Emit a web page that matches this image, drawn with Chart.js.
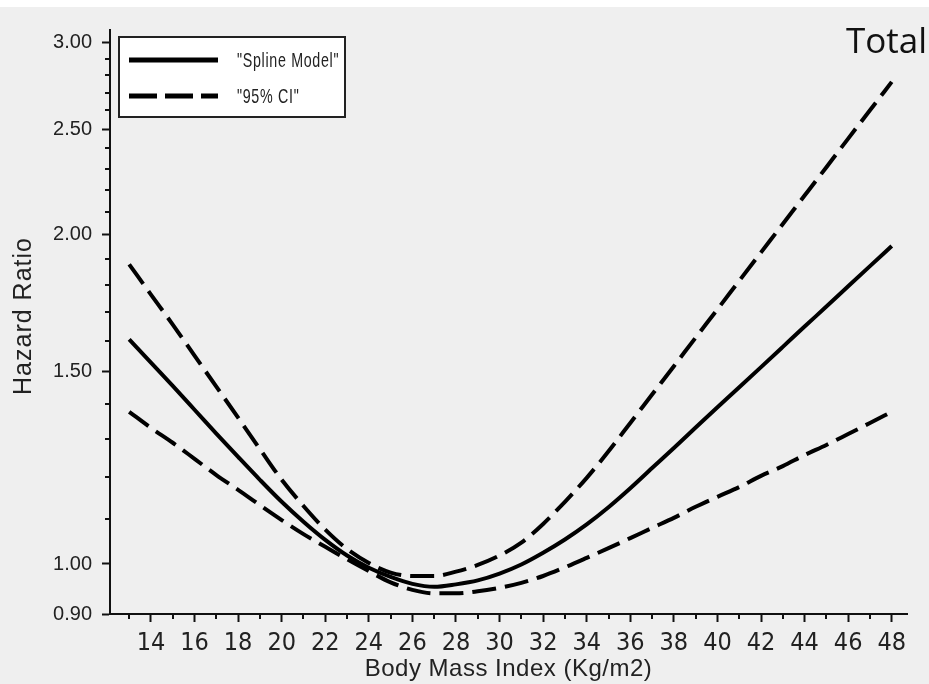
<!DOCTYPE html>
<html>
<head>
<meta charset="utf-8">
<script src="https://cdn.jsdelivr.net/npm/chart.js@4/dist/chart.umd.min.js"></script>
<style>
  body { margin: 0; background: #ffffff; }
  canvas { display: block; }
</style>
</head>
<body>
<canvas id="grafica_bmi" width="929" height="684"></canvas>
<script>
// datos
const bmi = [13, 14, 15, 16, 17, 18, 19, 20, 21, 22, 23, 24, 25, 26, 27, 28, 29, 30,
             31, 32, 33, 34, 35, 36, 37, 38, 39, 40, 41, 42, 43, 44, 45, 46, 47, 48];

const spline = [1.605, 1.528, 1.455, 1.384, 1.316, 1.253, 1.194, 1.140, 1.093, 1.052, 1.018, 0.992,
                0.973, 0.959, 0.953, 0.958, 0.966, 0.980, 0.999, 1.024, 1.053, 1.087, 1.127, 1.173,
                1.224, 1.277, 1.333, 1.391, 1.451, 1.514, 1.580, 1.649, 1.720, 1.795, 1.873, 1.954];

const ciAlto = [1.880, 1.764, 1.656, 1.551, 1.453, 1.361, 1.274, 1.194, 1.130, 1.075, 1.032, 1.002,
                0.982, 0.975, 0.975, 0.984, 0.998, 1.018, 1.046, 1.088, 1.140, 1.199, 1.268, 1.346,
                1.429, 1.517, 1.611, 1.710, 1.816, 1.928, 2.047, 2.173, 2.307, 2.450, 2.601, 2.761];

const ciBajo = [1.378, 1.332, 1.291, 1.248, 1.206, 1.169, 1.132, 1.097, 1.065, 1.037, 1.010, 0.985,
                0.962, 0.947, 0.940, 0.940, 0.944, 0.951, 0.961, 0.975, 0.993, 1.013, 1.034, 1.056,
                1.079, 1.102, 1.128, 1.152, 1.176, 1.204, 1.229, 1.258, 1.285, 1.315, 1.346, 1.378];

const etiquetasY = [0.9, 1.0, 1.5, 2.0, 2.5, 3.0];
const ticksMenoresY = [1.1, 1.2, 1.3, 1.4, 1.6, 1.7, 1.8, 1.9, 2.1, 2.2, 2.3, 2.4, 2.6, 2.7, 2.8, 2.9];
const etiquetasX = [14, 16, 18, 20, 22, 24, 26, 28, 30, 32, 34, 36, 38, 40, 42, 44, 46, 48];
const ticksMenoresX = [13, 15, 17, 19, 21, 23, 25, 27, 29, 31, 33, 35, 37, 39, 41, 43, 45, 47];

const leyenda = ['"Spline Model"', '"95% CI"'];
const tituloX = "Body Mass Index (Kg/m2)";
const tituloY = "Hazard Ratio";
const tituloPanel = "Total";

function puntos(valores) {
  return bmi.map((x, i) => ({ x: x, y: valores[i] }));
}

const fuenteTicks = '"Liberation Sans Narrow", "DejaVu Sans Condensed", "Liberation Sans", sans-serif';
const fuente = '"Liberation Sans", Arial, sans-serif';

const fondo = {
  id: "fondo",
  beforeDraw(chart) {
    const c = chart.ctx;
    c.save();
    c.fillStyle = "#ffffff";
    c.fillRect(0, 0, chart.width, 7);
    c.fillStyle = "#efefef";
    c.fillRect(0, 7, chart.width, chart.height - 7);
    c.restore();
  }
};

// texto estrecho como en la figura original
function textoEstrecho(c, texto, x, y, factor) {
  c.save();
  c.translate(x, y);
  c.scale(factor, 1);
  c.fillText(texto, 0, 0);
  c.restore();
}

const extras = {
  id: "extras",
  afterDraw(chart) {
    const c = chart.ctx;
    const a = chart.chartArea;
    const sx = chart.scales.x;
    const sy = chart.scales.y;
    c.save();

    // ticks menores
    c.strokeStyle = "#111";
    c.lineWidth = 2;
    ticksMenoresY.forEach(v => {
      const y = Math.round(sy.getPixelForValue(v));
      c.beginPath();
      c.moveTo(a.left - 5, y);
      c.lineTo(a.left, y);
      c.stroke();
    });
    ticksMenoresX.forEach(v => {
      const x = Math.round(sx.getPixelForValue(v));
      c.beginPath();
      c.moveTo(x, a.bottom);
      c.lineTo(x, a.bottom + 5);
      c.stroke();
    });

    // titulos de ejes
    c.fillStyle = "#222";
    c.font = "24px " + fuente;
    c.letterSpacing = "0.5px";
    c.textAlign = "center";
    c.textBaseline = "alphabetic";
    c.fillText(tituloX, (a.left + a.right) / 2, 676);

    c.save();
    c.translate(31, (a.top + a.bottom) / 2 - 6);
    c.rotate(-Math.PI / 2);
    c.font = "25px " + fuente;
    c.letterSpacing = "1px";
    c.fillText(tituloY, 0, 0);
    c.restore();

    // titulo del panel
    c.letterSpacing = "0px";
    c.font = '35px "Open Sans", sans-serif';
    c.textAlign = "right";
    c.fillStyle = "#111";
    c.fillText(tituloPanel, 927, 53);

    // leyenda
    const lx = 119, ly = 37, lw = 226, lh = 80;
    c.fillStyle = "#ffffff";
    c.fillRect(lx, ly, lw, lh);
    c.strokeStyle = "#222";
    c.lineWidth = 2;
    c.strokeRect(lx, ly, lw, lh);

    c.strokeStyle = "#000";
    c.lineWidth = 5;
    c.beginPath();
    c.moveTo(129, 60);
    c.lineTo(218, 60);
    c.stroke();
    c.setLineDash([28, 8]);
    c.beginPath();
    c.moveTo(129, 96);
    c.lineTo(218, 96);
    c.stroke();
    c.setLineDash([]);

    c.fillStyle = "#222";
    c.font = "21px " + fuente;
    c.textAlign = "left";
    c.textBaseline = "middle";
    c.letterSpacing = "1px";
    textoEstrecho(c, leyenda[0], 237, 61, 0.68);
    textoEstrecho(c, leyenda[1], 237, 97, 0.68);
    c.restore();
  }
};

const ctx = document.getElementById("grafica_bmi").getContext("2d");

new Chart(ctx, {
  type: "line",
  data: {
    datasets: [
      {
        label: leyenda[0],
        data: puntos(spline),
        borderColor: "#000",
        borderWidth: 4,
        pointRadius: 0,
        cubicInterpolationMode: "monotone",
      },
      {
        label: leyenda[1],
        data: puntos(ciAlto),
        borderColor: "#000",
        borderWidth: 4,
        borderDash: [24, 9],
        pointRadius: 0,
        cubicInterpolationMode: "monotone",
      },
      {
        label: leyenda[1],
        data: puntos(ciBajo),
        borderColor: "#000",
        borderWidth: 4,
        borderDash: [24, 9],
        pointRadius: 0,
        cubicInterpolationMode: "monotone",
      },
    ],
  },
  options: {
    responsive: false,
    animation: false,
    layout: { padding: { top: 30, right: 22, left: 0, bottom: 0 } },
    plugins: {
      legend: { display: false },
      tooltip: { enabled: false },
    },
    scales: {
      x: {
        type: "linear",
        min: 12.12,
        max: 48.7,
        afterFit: (s) => { s.height = 70; },
        afterBuildTicks: (s) => { s.ticks = etiquetasX.map(v => ({ value: v })); },
        border: { color: "#111", width: 2 },
        grid: { drawOnChartArea: false, drawTicks: true, tickLength: 8, tickColor: "#111", tickWidth: 2 },
        ticks: {
          autoSkip: false,
          maxRotation: 0,
          padding: 6,
          color: "#222",
          font: { family: fuenteTicks, size: 25 },
          callback: (v) => String(v),
        },
      },
      y: {
        type: "logarithmic",
        min: 0.9,
        max: 3.08,
        afterFit: (s) => { s.width = 110; },
        afterBuildTicks: (s) => { s.ticks = etiquetasY.map(v => ({ value: v })); },
        border: { color: "#111", width: 2 },
        grid: { drawOnChartArea: false, drawTicks: true, tickLength: 8, tickColor: "#111", tickWidth: 2 },
        ticks: {
          autoSkip: false,
          padding: 10,
          color: "#222",
          font: { family: fuente, size: 20 },
          callback: (v) => Number(v).toFixed(2),
        },
      },
    },
  },
  plugins: [fondo, extras],
});
</script>
</body>
</html>
